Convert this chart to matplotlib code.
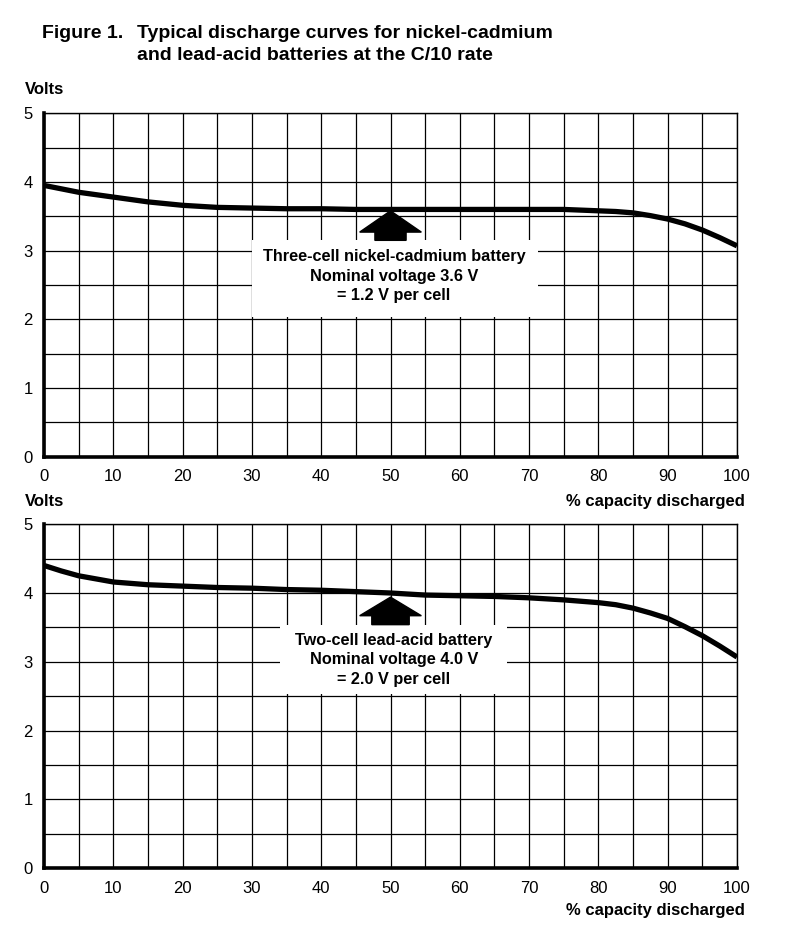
import matplotlib
matplotlib.use("Agg")
import matplotlib.pyplot as plt
from matplotlib.patches import Rectangle, FancyArrow

plt.rcParams['font.family'] = ['Liberation Sans', 'DejaVu Sans']

# percent capacity discharged (read points, denser where the curves bend)
pct = [0, 2.5, 5, 10, 15, 20, 25, 30, 35, 40, 45, 50, 55, 60, 65, 70, 75, 80,
       82.5, 85, 87.5, 90, 92.5, 95, 97.5, 100]

# three-cell nickel-cadmium battery (volts)
nicd_v = [3.95, 3.90, 3.85, 3.78, 3.71, 3.66, 3.63, 3.62, 3.61, 3.61, 3.60, 3.60, 3.60,
          3.60, 3.60, 3.60, 3.60, 3.58, 3.57, 3.55, 3.51, 3.46, 3.39, 3.30, 3.19, 3.07]

# two-cell lead-acid battery (volts)
lead_v = [4.40, 4.32, 4.25, 4.16, 4.12, 4.10, 4.08, 4.07, 4.05, 4.04, 4.02, 4.00, 3.97,
          3.96, 3.95, 3.93, 3.90, 3.86, 3.83, 3.78, 3.71, 3.63, 3.51, 3.38, 3.23, 3.07]

x_ticks = [0, 10, 20, 30, 40, 50, 60, 70, 80, 90, 100]
y_ticks = [0, 1, 2, 3, 4, 5]

nicd_text = ["Three-cell nickel-cadmium battery", "Nominal voltage 3.6 V", "= 1.2 V per cell"]
lead_text = ["Two-cell lead-acid battery", "Nominal voltage 4.0 V", "= 2.0 V per cell"]

fig = plt.figure(figsize=(8, 9.52), dpi=100)
ax1 = fig.add_axes([0.055, 0.5203, 0.86625, 0.3607])
ax2 = fig.add_axes([0.055, 0.0879, 0.86625, 0.3615])


def setup(ax):
    ax.set_xlim(0, 100)
    ax.set_ylim(0, 5)
    ax.set_xticks(x_ticks)
    ax.set_xticks(range(0, 101, 5), minor=True)
    ax.set_yticks(y_ticks)
    ax.set_yticks([v / 2 for v in range(11)], minor=True)
    ax.set_axisbelow(True)
    ax.grid(which='both', color='black', linewidth=0.9)
    ax.tick_params(which='both', length=0, labelsize=12, colors='black')
    ax.tick_params(axis='x', pad=9)
    ax.tick_params(axis='y', pad=8)
    for side in ['top', 'right']:
        ax.spines[side].set_linewidth(1.0)
    for side in ['left', 'bottom']:
        ax.spines[side].set_linewidth(2.6)
        ax.spines[side].set_capstyle('projecting')


setup(ax1)
setup(ax2)

# top panel
ax1.add_patch(Rectangle((30, 2.03), 41.3, 1.12, facecolor='white', edgecolor='none', zorder=2))
ax1.plot(pct, nicd_v, color='black', linewidth=3.8, solid_joinstyle='round',
         solid_capstyle='butt', zorder=3)
ax1.add_patch(FancyArrow(50, 3.15, 0, 0.43, width=4.5, head_width=8.9, head_length=0.31,
                         length_includes_head=True, color='black', zorder=3))
for txt, yy in zip(nicd_text, [2.91, 2.62, 2.35]):
    ax1.text(50.5, yy, txt, ha='center', va='center', fontsize=11.7, fontweight='bold', zorder=4)

# bottom panel
ax2.add_patch(Rectangle((34.1, 2.53), 32.7, 1.01, facecolor='white', edgecolor='none', zorder=2))
ax2.plot(pct, lead_v, color='black', linewidth=3.8, solid_joinstyle='round',
         solid_capstyle='butt', zorder=3)
ax2.add_patch(FancyArrow(50, 3.54, 0, 0.40, width=5.4, head_width=8.9, head_length=0.27,
                         length_includes_head=True, color='black', zorder=3))
for txt, yy in zip(lead_text, [3.31, 3.03, 2.75]):
    ax2.text(50.5, yy, txt, ha='center', va='center', fontsize=11.7, fontweight='bold', zorder=4)

# titles and axis captions
fig.text(0.0525, 0.9653, "Figure 1.", fontsize=14, fontweight='bold', va='center')
fig.text(0.171, 0.9653, "Typical discharge curves for nickel-cadmium",
         fontsize=14, fontweight='bold', va='center')
fig.text(0.171, 0.9422, "and lead-acid batteries at the C/10 rate",
         fontsize=14, fontweight='bold', va='center')

fig.text(0.031, 0.9065, "Volts", fontsize=12, fontweight='bold', va='center')
fig.text(0.031, 0.4727, "Volts", fontsize=12, fontweight='bold', va='center')
fig.text(0.931, 0.4737, "% capacity discharged", fontsize=12, fontweight='bold',
         va='center', ha='right')
fig.text(0.931, 0.0441, "% capacity discharged", fontsize=12, fontweight='bold',
         va='center', ha='right')

fig.savefig("out.png", dpi=100, facecolor='white')
